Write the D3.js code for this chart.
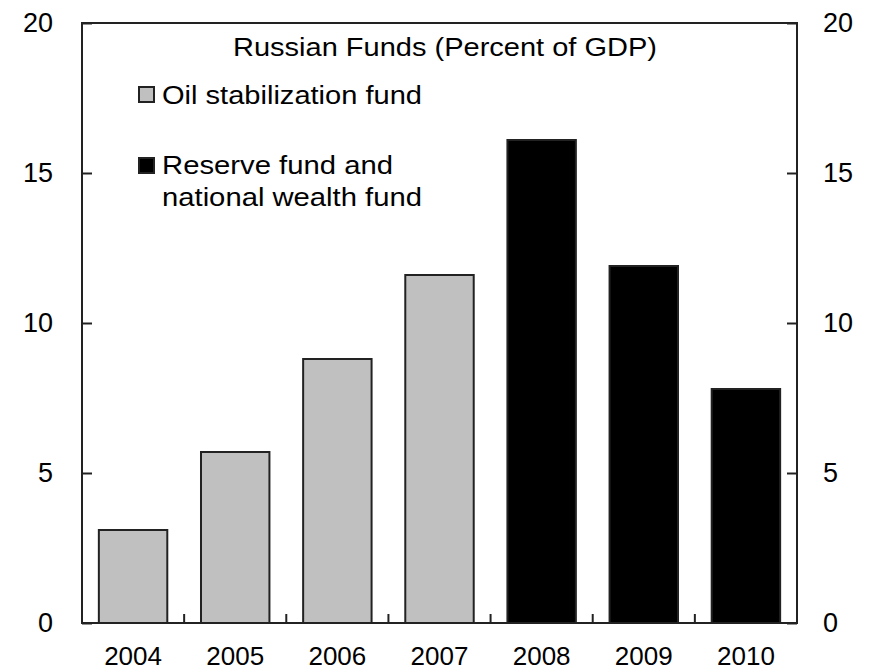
<!DOCTYPE html>
<html>
<head>
<meta charset="utf-8">
<script src="https://cdn.jsdelivr.net/npm/d3@7/dist/d3.min.js"></script>
<style>
  html, body { margin: 0; padding: 0; background: #fff; }
  svg { display: block; font-family: "Liberation Sans", Arial, sans-serif; }
</style>
</head>
<body>
<svg id="chart" width="872" height="672"></svg>
<script>
// Russian oil / reserve funds, percent of GDP
const years = ["2004", "2005", "2006", "2007", "2008", "2009", "2010"];
const fundValues = [3.1, 5.7, 8.8, 11.6, 16.1, 11.9, 7.8];
const fundType = ["oil", "oil", "oil", "oil", "reserve", "reserve", "reserve"];
const yTicks = [0, 5, 10, 15, 20];
const titleText = "Russian Funds (Percent of GDP)";
const legendItems = [
  { key: "oil", lines: ["Oil stabilization fund"] },
  { key: "reserve", lines: ["Reserve fund and", "national wealth fund"] }
];

const fills = { oil: "#c0c0c0", reserve: "#000000" };
const edge = "#222";

const margin = { left: 82, right: 75, top: 23, bottom: 49 };
const W = 872, H = 672;
const svg = d3.select("#chart");

const x = d3.scaleBand()
  .domain(years)
  .range([margin.left, W - margin.right])
  .paddingInner(0.33)
  .paddingOuter(0.165);

const y = d3.scaleLinear()
  .domain([0, 20])
  .range([H - margin.bottom, margin.top]);

const x0 = margin.left, x1 = W - margin.right;
const y0 = H - margin.bottom, y1 = margin.top;

// bars
svg.append("g")
  .selectAll("rect")
  .data(years)
  .join("rect")
  .attr("x", d => x(d))
  .attr("width", x.bandwidth())
  .attr("y", (d, i) => y(fundValues[i]))
  .attr("height", (d, i) => y(0) - y(fundValues[i]))
  .attr("fill", (d, i) => fills[fundType[i]])
  .attr("stroke", edge)
  .attr("stroke-width", 2);

// frame
svg.append("rect")
  .attr("x", x0).attr("y", y1)
  .attr("width", x1 - x0).attr("height", y0 - y1)
  .attr("fill", "none")
  .attr("stroke", edge)
  .attr("stroke-width", 2);

const tickFont = 27;

// left axis (ticks point inward)
const leftAxis = d3.axisLeft(y).tickValues(yTicks).tickSize(-10).tickPadding(29)
  .tickFormat(d3.format("d"));
const gl = svg.append("g").attr("transform", `translate(${x0},0)`).call(leftAxis);

// right axis (ticks point inward)
const rightAxis = d3.axisRight(y).tickValues(yTicks).tickSize(-10).tickPadding(26)
  .tickFormat(d3.format("d"));
const gr = svg.append("g").attr("transform", `translate(${x1},0)`).call(rightAxis);

[gl, gr].forEach(g => {
  g.select(".domain").remove();
  g.selectAll(".tick line").attr("stroke", edge).attr("stroke-width", 2);
  g.selectAll(".tick text")
    .attr("font-size", tickFont)
    .attr("font-family", "Liberation Sans, Arial, sans-serif")
    .attr("fill", "#000");
});

// bottom axis: labels at band centres, ticks at band boundaries
const xAxis = d3.axisBottom(x).tickSize(0).tickPadding(24);
const gb = svg.append("g").attr("transform", `translate(0,${y0})`).call(xAxis);
gb.select(".domain").remove();
gb.selectAll(".tick text")
  .attr("font-size", 26)
  .attr("font-family", "Liberation Sans, Arial, sans-serif")
  .attr("fill", "#000");

const step = x.step();
svg.append("g")
  .selectAll("line")
  .data(years.slice(1))
  .join("line")
  .attr("x1", d => x(d) - step * x.paddingInner() / 2)
  .attr("x2", d => x(d) - step * x.paddingInner() / 2)
  .attr("y1", y0)
  .attr("y2", y0 - 9)
  .attr("stroke", edge)
  .attr("stroke-width", 2);

// title
svg.append("text")
  .attr("x", 233)
  .attr("y", 56)
  .attr("font-size", 26)
  .attr("textLength", 424)
  .attr("lengthAdjust", "spacingAndGlyphs")
  .attr("fill", "#000")
  .text(titleText);

// legend
const legendLayout = [
  { box: [139, 87], baselines: [104], widths: [260] },
  { box: [139, 158], baselines: [174, 206], widths: [231, 260] }
];
legendItems.forEach((item, i) => {
  const L = legendLayout[i];
  svg.append("rect")
    .attr("x", L.box[0]).attr("y", L.box[1])
    .attr("width", 15).attr("height", 15)
    .attr("fill", fills[item.key])
    .attr("stroke", edge)
    .attr("stroke-width", 2);
  item.lines.forEach((line, j) => {
    svg.append("text")
      .attr("x", 162)
      .attr("y", L.baselines[j])
      .attr("font-size", 26)
      .attr("textLength", L.widths[j])
      .attr("lengthAdjust", "spacingAndGlyphs")
      .attr("fill", "#000")
      .text(line);
  });
});
</script>
</body>
</html>
